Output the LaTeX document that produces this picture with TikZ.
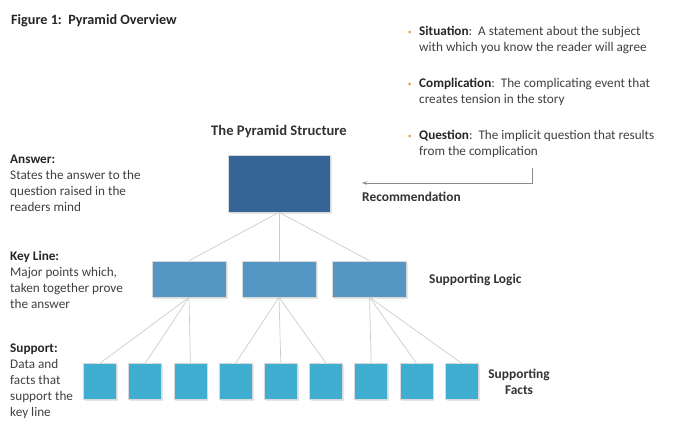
\documentclass[tikz,border=0pt]{standalone}
\usepackage{fontspec}
\setmainfont{Carlito}
\usetikzlibrary{shadows,arrows.meta}
\definecolor{topblue}{RGB}{52,101,150}
\definecolor{midblue}{RGB}{84,150,196}
\definecolor{factblue}{RGB}{64,174,208}
\definecolor{txtgray}{RGB}{64,64,64}
\definecolor{linegray}{RGB}{205,205,205}
\definecolor{arrowgray}{RGB}{140,140,140}
\definecolor{dotorange}{RGB}{240,150,60}

\begin{document}
\begin{tikzpicture}[
  x = 1pt, y = -1pt,
  box/.style = {draw = white!70!gray, line width = 0.6pt, inner sep = 0pt,
    drop shadow = {shadow xshift = 1.5pt, shadow yshift = -1.5pt, fill = gray!40}},
  answerbox/.style = {box, fill = topblue, minimum width = 102pt, minimum height = 57pt},
  logicbox/.style = {box, fill = midblue, minimum width = 74pt, minimum height = 36pt},
  factbox/.style = {box, fill = factblue, minimum width = 33pt, minimum height = 36pt},
  link/.style = {draw = linegray, line width = 0.7pt},
  side/.style = {font = \fontsize{13.2}{16}\selectfont, text = txtgray, align = left,
    anchor = north west, inner sep = 0pt},
  note/.style = {font = \fontsize{13.2}{16}\selectfont, text = txtgray, align = left,
    anchor = north west, inner sep = 0pt},
  heading/.style = {font = \bfseries\fontsize{13.4}{16}\selectfont, text = black!80,
    align = center, inner sep = 0pt}
]
\useasboundingbox[fill = white] (0,0) rectangle (680,429);

\node [anchor = north west, inner sep = 0pt, font = \bfseries\fontsize{14.2}{16}\selectfont,
  text = black!85] (title) at (11,14) {Figure 1:\ \ Pyramid Overview};

\node [heading, anchor = north, font = \bfseries\fontsize{14.6}{16}\selectfont]
  (pyr) at (279,125) {The Pyramid Structure};

\node [answerbox] (top) at (279,183.5) {};

\node [logicbox] (kl1) at (189,279) {};
\node [logicbox] (kl2) at (279,279) {};
\node [logicbox] (kl3) at (369.5,279) {};

\foreach \i in {1,...,9}
  \node [factbox] (sf\i) at ({100 + 45.2*(\i-1)},381.5) {};

\draw [link] (top.south) -- (kl1.north);
\draw [link] (top.south) -- (kl2.north);
\draw [link] (top.south) -- (kl3.north);
\draw [link] (kl1.south) -- (sf1.north);
\draw [link] (kl1.south) -- (sf2.north);
\draw [link] (kl1.south) -- (sf3.north);
\draw [link] (kl2.south) -- (sf4.north);
\draw [link] (kl2.south) -- (sf5.north);
\draw [link] (kl2.south) -- (sf6.north);
\draw [link] (kl3.south) -- (sf7.north);
\draw [link] (kl3.south) -- (sf8.north);
\draw [link] (kl3.south) -- (sf9.north);

\node [side] (answer) at (10,155)
  {\textcolor{black!85}{\textbf{Answer:}}\\
   States the answer to the\\
   question raised in the\\
   readers mind};
\node [side] (keyline) at (10,251)
  {\textcolor{black!85}{\textbf{Key Line:}}\\
   Major points which,\\
   taken together prove\\
   the answer};
\node [side] (support) at (10,344)
  {\textcolor{black!85}{\textbf{Support:}}\\
   Data and\\
   facts that\\
   support the\\
   key line};

\node [heading, anchor = west] (logic) at (429,279.5) {Supporting Logic};
\node [heading] (facts) at (519,382) {Supporting\\Facts};

\node [note] (situation) at (419,26)
  {\textcolor{black!85}{\textbf{Situation}}:\ \ A statement about the subject\\
   with which you know the reader will agree};
\node [note] (complication) at (419,78)
  {\textcolor{black!85}{\textbf{Complication}}:\ \ The complicating event that\\
   creates tension in the story};
\node [note] (question) at (419,130)
  {\textcolor{black!85}{\textbf{Question}}:\ \ The implicit question that results\\
   from the complication};
\fill [dotorange] (409.5,32) circle (1.5pt);
\fill [dotorange] (409.5,84) circle (1.5pt);
\fill [dotorange] (409.5,136) circle (1.5pt);

\node [heading, anchor = north west] (recommend) at (362,192) {Recommendation};
\coordinate (qend) at (532,168);
\coordinate (rtip) at (362,183);
\draw [arrowgray, line width = 0.8pt, -{Stealth[length = 5pt, width = 3.5pt]}]
  (qend) |- (rtip);

\end{tikzpicture}
\end{document}
